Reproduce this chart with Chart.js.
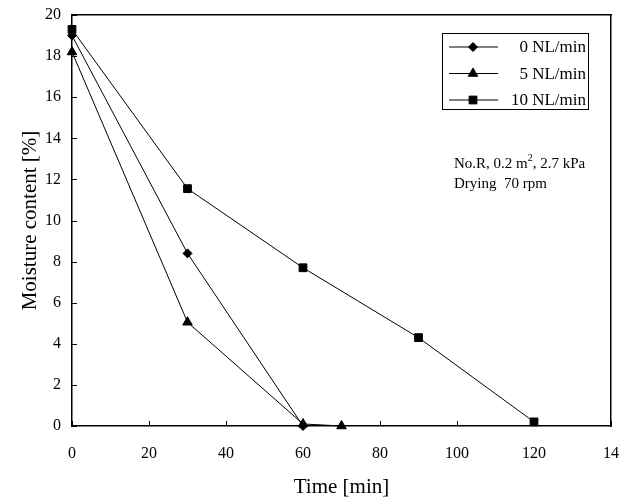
<!DOCTYPE html>
<html>
<head>
<meta charset="utf-8">
<script src="https://cdn.jsdelivr.net/npm/chart.js@4/dist/chart.umd.min.js"></script>
<style>
  html, body { margin: 0; padding: 0; background: #fff; }
  #wrap { width: 629px; height: 498px; }
</style>
</head>
<body>
<div id="wrap"><canvas id="myChart" width="629" height="498"></canvas></div>
<script>
// data
const seriesLabels = ['0 NL/min', '5 NL/min', '10 NL/min'];
const time0 = [0, 30, 60];
const moist0 = [19.0, 8.4, 0.0];
const time5 = [0, 30, 60, 70];
const moist5 = [18.2, 5.05, 0.1, 0.0];
const time10 = [0, 30, 60, 90, 120];
const moist10 = [19.3, 11.55, 7.7, 4.3, 0.2];
const xTicks = [0, 20, 40, 60, 80, 100, 120, 140];
const yTicks = [0, 2, 4, 6, 8, 10, 12, 14, 16, 18, 20];
const noteLines = ['No.R, 0.2 m², 2.7 kPa', 'Drying  70 rpm'];

const serif = '"Liberation Serif", "Times New Roman", serif';

function toPoints(xs, ys) {
    return xs.map((x, i) => ({ x: x, y: ys[i] }));
}

// inside tick marks, legend box and note text
const extras = {
    id: 'extras',
    afterDraw(chart) {
        const c = chart.ctx;
        const xs = chart.scales.x, ys = chart.scales.y;
        const a = chart.chartArea;
        c.save();
        c.strokeStyle = '#000';
        c.lineWidth = 1;
        c.beginPath();
        xTicks.forEach(v => {
            const px = Math.round(xs.getPixelForValue(v)) + 0.5;
            c.moveTo(px, a.bottom); c.lineTo(px, a.bottom - 5);
        });
        yTicks.forEach(v => {
            const py = Math.round(ys.getPixelForValue(v)) + 0.5;
            c.moveTo(a.left, py); c.lineTo(a.left + 5, py);
        });
        c.stroke();

        // legend
        const bx = 442, by = 33, bw = 146, bh = 76;
        c.lineWidth = 1;
        c.strokeRect(bx + 0.5, by + 0.5, bw, bh);
        c.font = '17px ' + serif;
        c.textBaseline = 'middle';
        c.textAlign = 'right';
        chart.data.datasets.forEach((ds, i) => {
            const ly = by + 14 + i * 26.5;
            c.beginPath();
            c.moveTo(bx + 7, ly); c.lineTo(bx + 56, ly);
            c.stroke();
            Chart.helpers.drawPoint(c, {
                pointStyle: ds.pointStyle,
                radius: ds.pointRadius,
                rotation: 0,
                borderWidth: 1
            }, bx + 31, ly);
            c.fillStyle = '#000';
            c.fillText(ds.label, bx + bw - 2, ly + 1);
        });

        // note
        c.textAlign = 'left';
        c.font = '15px ' + serif;
        c.fillText('No.R, 0.2 m', 454, 164);
        const w = c.measureText('No.R, 0.2 m').width;
        c.font = '10px ' + serif;
        c.fillText('2', 454 + w, 158);
        const w2 = c.measureText('2').width;
        c.font = '15px ' + serif;
        c.fillText(', 2.7 kPa', 454 + w + w2, 164);
        c.fillText(noteLines[1], 454, 184);
        c.restore();
    }
};

const ctx = document.getElementById('myChart').getContext('2d');
const common = {
    borderColor: '#000',
    backgroundColor: '#000',
    borderWidth: 1,
    showLine: true,
    pointBorderWidth: 1,
    tension: 0,
    clip: false
};

new Chart(ctx, {
    type: 'scatter',
    data: {
        datasets: [
            Object.assign({}, common, {
                label: seriesLabels[0],
                data: toPoints(time0, moist0),
                pointStyle: 'rectRot', pointRadius: 4.5
            }),
            Object.assign({}, common, {
                label: seriesLabels[1],
                data: toPoints(time5, moist5),
                pointStyle: 'triangle', pointRadius: 5.5
            }),
            Object.assign({}, common, {
                label: seriesLabels[2],
                data: toPoints(time10, moist10),
                pointStyle: 'rect', pointRadius: 5.5
            })
        ]
    },
    options: {
        responsive: false,
        animation: false,
        layout: { padding: { left: 0, right: 15, top: 15, bottom: 0 } },
        plugins: { legend: { display: false }, tooltip: { enabled: false } },
        scales: {
            x: {
                type: 'linear', min: 0, max: 140,
                afterBuildTicks: s => { s.ticks = xTicks.map(v => ({ value: v })); },
                afterFit: s => { s.height = 72; },
                grid: { display: false },
                border: { display: true, color: '#000', width: 1.5 },
                ticks: {
                    color: '#000', padding: 10, maxRotation: 0,
                    font: { family: serif, size: 16 },
                    callback: v => (v === 140 ? '14' : String(v))
                },
                title: {
                    display: true, text: 'Time [min]', color: '#000',
                    font: { family: serif, size: 21, lineHeight: 1 },
                    padding: { top: 0, bottom: 0 }
                }
            },
            y: {
                min: 0, max: 20,
                afterBuildTicks: s => { s.ticks = yTicks.map(v => ({ value: v })); },
                afterFit: s => { s.width = 72; },
                grid: { display: false },
                border: { display: true, color: '#000', width: 1.5 },
                ticks: {
                    color: '#000', padding: 3,
                    font: { family: serif, size: 16 }
                },
                title: {
                    display: true, text: 'Moisture content [%]', color: '#000',
                    font: { family: serif, size: 21, lineHeight: 1 },
                    padding: { top: 20, bottom: 0 }
                }
            },
            x2: {
                type: 'linear', position: 'top', min: 0, max: 140,
                display: true, afterFit: s => { s.height = 0; },
                grid: { display: false }, ticks: { display: false },
                border: { display: true, color: '#000', width: 1.5 }
            },
            y2: {
                position: 'right', min: 0, max: 20,
                display: true, afterFit: s => { s.width = 0; },
                grid: { display: false }, ticks: { display: false },
                border: { display: true, color: '#000', width: 1.5 }
            }
        }
    },
    plugins: [extras]
});
</script>
</body>
</html>
